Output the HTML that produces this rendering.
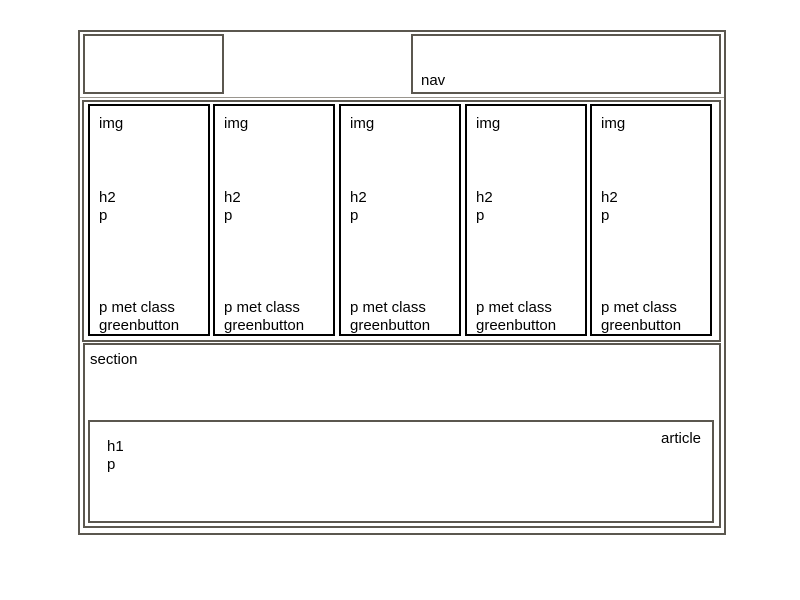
<!DOCTYPE html>
<html><head><style>
body{margin:0;width:800px;height:600px;background:#fff;position:relative;font-family:"Liberation Sans",Arial,sans-serif;font-size:15px;color:#000}
div{position:absolute;box-sizing:border-box}
.g{border:2px solid #5b574f}
.c{border:2px solid #000;top:104px;width:122px;height:232px}
.t{position:absolute;line-height:18px;white-space:nowrap}
</style></head><body>
<div class="g" style="left:78px;top:30px;width:648px;height:505px"></div>
<div style="left:80px;top:97px;width:644px;height:1px;background:#9a968f"></div>
<div class="g" style="left:83px;top:34px;width:141px;height:60px"></div>
<div class="g" style="left:411px;top:34px;width:310px;height:60px"><span class="t" style="left:8px;top:36px">nav</span></div>
<div class="g" style="left:82px;top:100px;width:639px;height:242px"></div>
<div class="c" style="left:88px"><span class="t" style="left:9px;top:9px">img</span><span class="t" style="left:9px;top:83px">h2<br>p</span><span class="t" style="left:9px;top:193px">p met class<br>greenbutton</span></div>
<div class="c" style="left:213px"><span class="t" style="left:9px;top:9px">img</span><span class="t" style="left:9px;top:83px">h2<br>p</span><span class="t" style="left:9px;top:193px">p met class<br>greenbutton</span></div>
<div class="c" style="left:339px"><span class="t" style="left:9px;top:9px">img</span><span class="t" style="left:9px;top:83px">h2<br>p</span><span class="t" style="left:9px;top:193px">p met class<br>greenbutton</span></div>
<div class="c" style="left:465px"><span class="t" style="left:9px;top:9px">img</span><span class="t" style="left:9px;top:83px">h2<br>p</span><span class="t" style="left:9px;top:193px">p met class<br>greenbutton</span></div>
<div class="c" style="left:590px"><span class="t" style="left:9px;top:9px">img</span><span class="t" style="left:9px;top:83px">h2<br>p</span><span class="t" style="left:9px;top:193px">p met class<br>greenbutton</span></div>
<div class="g" style="left:83px;top:343px;width:638px;height:185px"><span class="t" style="left:5px;top:6px">section</span></div>
<div class="g" style="left:88px;top:420px;width:626px;height:103px"><span class="t" style="right:11px;top:8px">article</span><span class="t" style="left:17px;top:16px">h1<br>p</span></div>
</body></html>
